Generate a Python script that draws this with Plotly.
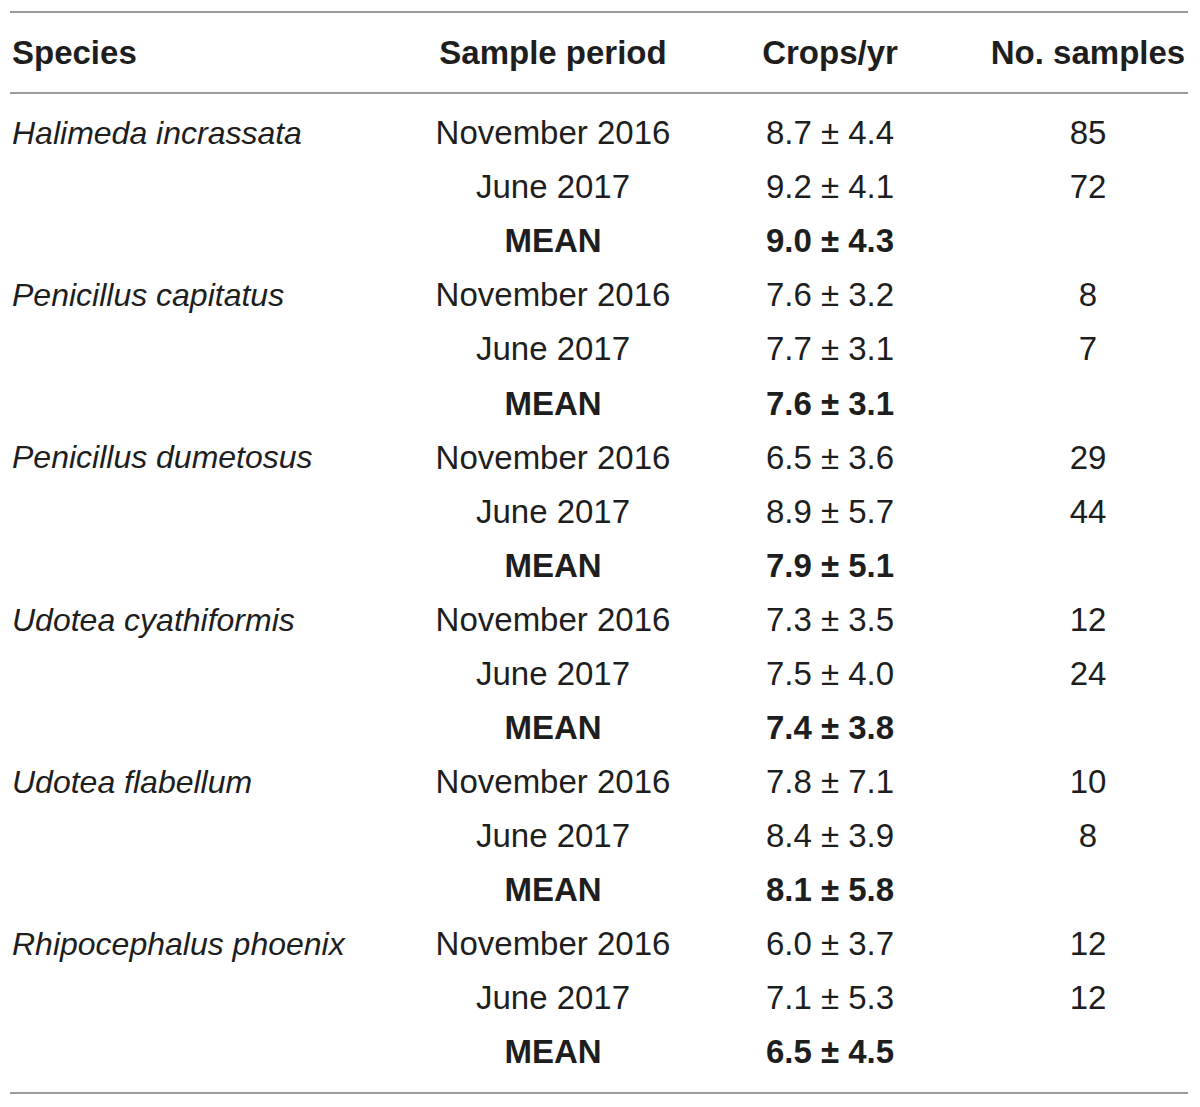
import plotly.graph_objects as go

# ---- data ----
headers = ["Species", "Sample period", "Crops/yr", "No. samples"]
species = ["Halimeda incrassata", "Penicillus capitatus", "Penicillus dumetosus",
           "Udotea cyathiformis", "Udotea flabellum", "Rhipocephalus phoenix"]
periods = ["November 2016", "June 2017", "MEAN"]
crops_mean = [[8.7, 9.2, 9.0], [7.6, 7.7, 7.6], [6.5, 8.9, 7.9],
              [7.3, 7.5, 7.4], [7.8, 8.4, 8.1], [6.0, 7.1, 6.5]]
crops_sd = [[4.4, 4.1, 4.3], [3.2, 3.1, 3.1], [3.6, 5.7, 5.1],
            [3.5, 4.0, 3.8], [7.1, 3.9, 5.8], [3.7, 5.3, 4.5]]
n_samples = [[85, 72, None], [8, 7, None], [29, 44, None],
             [12, 24, None], [10, 8, None], [12, 12, None]]

# ---- layout constants ----
W, H = 1200, 1107
OFF = 8  # page body margin
FONT = "Liberation Sans, Arial, Helvetica, sans-serif"
FS = 33
FS_SP = 32
COLOR = "#1e1e1e"
col_x = [12, 553, 830, 1088]
header_y = 56
row0_y = 136
row_step = 54.06

rows_species, rows_period, rows_crops, rows_n, rows_y = [], [], [], [], []
r = 0
for i, sp in enumerate(species):
    for j, p in enumerate(periods):
        y = row0_y + r * row_step
        rows_y.append(y)
        rows_species.append(f"<i>{sp}</i>" if j == 0 else "")
        txt = f"{crops_mean[i][j]:.1f} ± {crops_sd[i][j]:.1f}"
        if p == "MEAN":
            rows_period.append(f"<b>{p}</b>")
            rows_crops.append(f"<b>{txt}</b>")
        else:
            rows_period.append(p)
            rows_crops.append(txt)
        v = n_samples[i][j]
        rows_n.append("" if v is None else str(v))
        r += 1

fig = go.Figure()
tf = dict(family=FONT, size=FS, color=COLOR)
tf_sp = dict(family=FONT, size=FS_SP, color=COLOR)

# header
fig.add_trace(go.Scatter(x=[col_x[0]], y=[header_y], mode="text",
                         text=[f"<b>{headers[0]}</b>"], textposition="middle right",
                         textfont=tf, hoverinfo="skip", showlegend=False))
fig.add_trace(go.Scatter(x=col_x[1:], y=[header_y] * 3, mode="text",
                         text=[f"<b>{h}</b>" for h in headers[1:]], textposition="middle center",
                         textfont=tf, hoverinfo="skip", showlegend=False))
# body
fig.add_trace(go.Scatter(x=[col_x[0]] * len(rows_y), y=rows_y, mode="text",
                         text=rows_species, textposition="middle right",
                         textfont=tf_sp, hoverinfo="skip", showlegend=False))
for cx, col in zip(col_x[1:], [rows_period, rows_crops, rows_n]):
    fig.add_trace(go.Scatter(x=[cx] * len(rows_y), y=rows_y, mode="text",
                             text=col, textposition="middle center",
                             textfont=tf, hoverinfo="skip", showlegend=False))

line_style = dict(color="#9a9a9a", width=2)
for ly in [12, 93, 1093]:
    fig.add_shape(type="line", x0=10, x1=1188, y0=ly, y1=ly, xref="x", yref="y", line=line_style)

fig.update_layout(
    width=W - OFF, height=H - OFF,
    margin=dict(l=0, r=0, t=0, b=0),
    paper_bgcolor="white", plot_bgcolor="white",
    xaxis=dict(range=[OFF, W], visible=False, fixedrange=True),
    yaxis=dict(range=[H, OFF], visible=False, fixedrange=True),
)
fig.write_html("out.html")
